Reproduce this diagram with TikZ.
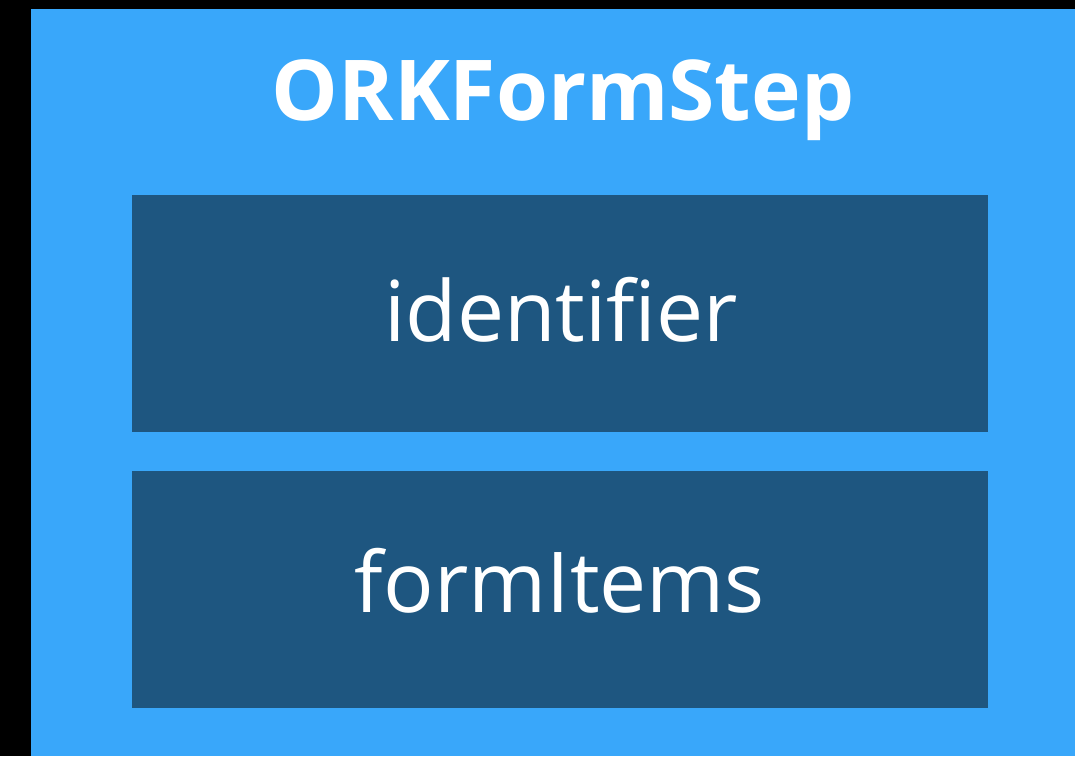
\documentclass[tikz,border=0pt]{standalone}
\usepackage{fontspec}
\setmainfont{Open Sans}
\usepackage{tikz}
\usetikzlibrary{positioning,calc}
\definecolor{orkback}{HTML}{000000}
\definecolor{orkblue}{HTML}{39A7FA}
\definecolor{orkdark}{HTML}{1E5680}
\tikzset{
  ork/field/.style={
    draw=none, fill=orkdark, inner sep=0pt, anchor=south west,
    minimum width=856pt, minimum height=237pt
  },
  ork/label/.style={
    text=white, inner sep=0pt, anchor=base, font=\fontsize{84}{84}\selectfont
  },
  ork/title/.style={
    text=white, inner sep=0pt, anchor=base, font=\fontsize{84}{84}\selectfont\bfseries
  }
}
\begin{document}
\begin{tikzpicture}[x=1pt, y=1pt]
  % --- Hintergrund ---
  \fill[orkback] (0,0) rectangle (1075,756);
  \useasboundingbox (0,0) rectangle (1075,756);
  \fill[orkblue] (31,0) rectangle (1075,747);
  \node[ork/title] (title) at (563,635) {ORKFormStep};

  % --- Felder ---
  \node[ork/field] (idbox) at (132,324) {};
  \node[ork/field] (itembox) at (132,48) {};
  \node[ork/label] (idtext) at (561,415) {identifier};
  \node[ork/label] (itemtext) at (560,144) {formItems};
\end{tikzpicture}
\end{document}
